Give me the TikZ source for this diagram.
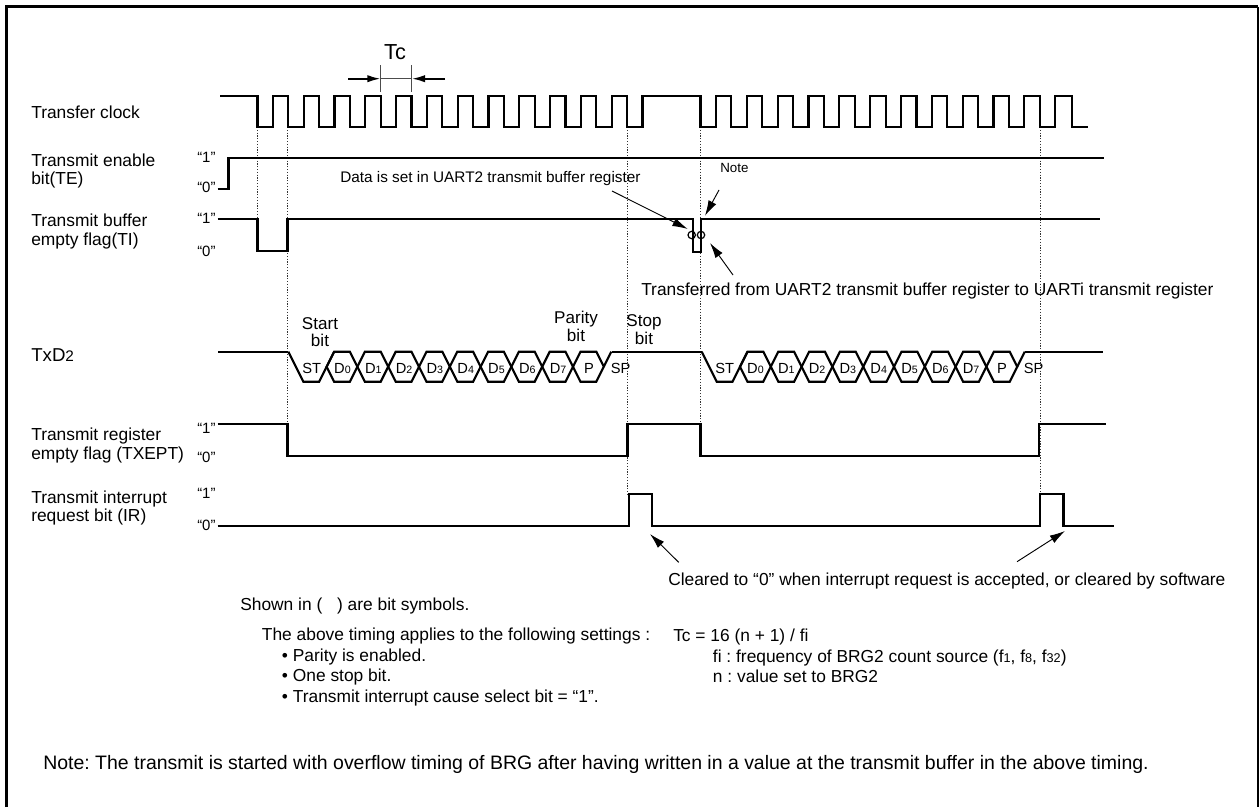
\documentclass[tikz,border=0pt]{standalone}
\usepackage{fontspec}
\setmainfont{Liberation Sans}
\usetikzlibrary{arrows.meta}
\frenchspacing
\newcommand{\fsz}[1]{\fontsize{#1}{#1}\selectfont}
\newcommand{\sm}[1]{{\fsz{8}#1}}
\newcommand{\smb}[1]{{\fsz{9.5}#1}}
\tikzset{
  wave/.style={line width=1.6pt,line join=miter,line cap=butt,black},
  dots/.style={line width=0.6pt,dash pattern=on 0.9pt off 1.2pt,black!80},
  thinl/.style={line width=0.6pt,black!70},
  arr/.style={line width=0.7pt,-{Latex[length=11.5pt,width=6.5pt]}},
  tcarr/.style={line width=1.5pt,-{Latex[length=10pt,width=5.5pt]}},
  lbl/.style={inner sep=0pt,anchor=base west,font=\fsz{13.05}},
  mid/.style={inner sep=0pt,anchor=base,font=\fsz{12.8}},
  lev/.style={inner sep=0pt,anchor=base west,font=\fsz{11.2}},
  bitl/.style={inner sep=0pt,anchor=base,font=\fsz{11}},
  notel/.style={inner sep=0pt,anchor=base west,font=\fsz{10}},
  body/.style={inner sep=0pt,anchor=base west,font=\fsz{13.03}},
}
\begin{document}
\begin{tikzpicture}[x=0.75pt,y=-0.75pt]
\useasboundingbox (0,0) rectangle (1259,807);
% frame
\draw[line width=1.7pt] (6.5,807) -- (6.5,6.5) -- (1258,6.5);
\draw[line width=0.8pt] (1258,6.5) -- (1258,807);
% dotted guides
\draw[dots] (257.5,127) -- (257.5,219);
\draw[dots] (287.5,127) -- (287.5,424);
\draw[dots] (627.5,127) -- (627.5,494);
\draw[dots] (700.5,127) -- (700.5,424);
\draw[dots] (1040,127) -- (1040,494);
% clock
\draw[wave] (220,96)
  foreach \k in {0,...,12} { -- ({257.5+30.8*\k},96) -- ({257.5+30.8*\k},127) -- ({272.9+30.8*\k},127) -- ({272.9+30.8*\k},96) }
  foreach \k in {0,...,11} { -- ({700.5+30.85*\k},96) -- ({700.5+30.85*\k},127) -- ({715.9+30.85*\k},127) -- ({715.9+30.85*\k},96) }
  -- (1072,96) -- (1072,127) -- (1087.7,127);
% Tc
\coordinate (tcL) at (380.7,78.7);
\coordinate (tcR) at (411.7,78.7);
\coordinate (tcLs) at (348.3,78.7);
\coordinate (tcRs) at (445,78.7);
\draw[thinl] (380.7,65) -- (380.7,92) (411.7,65) -- (411.7,92);
\draw[thinl] (tcL) -- (tcR);
\draw[tcarr] (tcLs) -- (tcL);
\draw[tcarr] (tcRs) -- (tcR);
\node[mid,font=\fsz{16.3}] (tc) at (395,59) {Tc};
% TE
\draw[wave] (217.5,188.7) -- (228.5,188.7) -- (228.5,157.7) -- (1104,157.7);
% TI
\draw[wave] (217.5,219.3) -- (257.5,219.3) -- (257.5,250.7) -- (287.5,250.7) -- (287.5,219.3) -- (692.7,219.3) -- (692.7,251.7) -- (701,251.7) -- (701,219.3) -- (1100,219.3);
\draw[line width=0.9pt] (691.7,235) circle (3.7) (701,235) circle (3.7);
% TxD
\foreach \x/\n in {288.3/a,701.7/b}{
  \draw[wave] (\x,351.7) -- ++(15,30) -- ({\x+30.8},381.7) -- ({\x+45.8},351.7);
  \foreach \k in {1,...,9}{
    \draw[wave] ({\x+7.5+30.8*\k},366.7) -- ({\x+15+30.8*\k},351.7) -- ({\x+30.8+30.8*\k},351.7) -- ({\x+38.3+30.8*\k},366.7) -- ({\x+30.8+30.8*\k},381.7) -- ({\x+15+30.8*\k},381.7) -- cycle;
  }
  \draw[wave] ({\x+30.8*10+7.5},366.7) -- ({\x+30.8*10+15},351.7);
}
\draw[wave] (218,351.7) -- (288.3,351.7);
\draw[wave] (611.5,351.7) -- (701.7,351.7);
\draw[wave] (1025,351.7) -- (1103,351.7);
% TXEPT
\draw[wave] (217.5,424.3) -- (287.5,424.3) -- (287.5,455.7) -- (627.5,455.7) -- (627.5,424.3) -- (700.5,424.3) -- (700.5,455.7) -- (1039,455.7) -- (1039,424.3) -- (1106,424.3);
% IR
\draw[wave] (217.5,525.7) -- (629,525.7) -- (629,494.3) -- (652,494.3) -- (652,525.7) -- (1040,525.7) -- (1040,494.3) -- (1063.5,494.3) -- (1063.5,525.7) -- (1114,525.7);
% left labels
\node[lbl] (l1) at (31,118.7) {Transfer clock};
\node[lbl] (l2) at (31,166) {Transmit enable};
\node[lbl] (l3) at (31,184) {bit(TE)};
\node[lbl] (l4) at (31,226) {Transmit buffer};
\node[lbl] (l5) at (31,245) {empty flag(TI)};
\node[lbl,font=\fsz{14}] (l6) at (31,361) {TxD{\fsz{11.5}2}};
\node[lbl] (l7) at (31,440) {Transmit register};
\node[lbl] (l8) at (31,459) {empty flag (TXEPT)};
\node[lbl] (l9) at (31,503) {Transmit interrupt};
\node[lbl] (l10) at (31,521.7) {request bit (IR)};
% levels
\node[lev] (v1) at (197,162.7) {“1”};
\node[lev] (v2) at (197,192.7) {“0”};
\node[lev] (v3) at (197,223) {“1”};
\node[lev] (v4) at (197,256.7) {“0”};
\node[lev] (v5) at (197,433) {“1”};
\node[lev] (v6) at (197,462) {“0”};
\node[lev] (v7) at (197,498) {“1”};
\node[lev] (v8) at (197,530) {“0”};
% bit labels
\node[mid] (s1) at (320,329) {Start};
\node[mid] (s2) at (320,346.7) {bit};
\node[mid] (p1) at (576,323) {Parity};
\node[mid] (p2) at (576,341) {bit};
\node[mid] (q1) at (644,326) {Stop};
\node[mid] (q2) at (644,344) {bit};
\foreach \x/\n in {311.7/a,724.7/b}{
  \node[bitl] (st\n) at (\x,373) {ST};
  \node[bitl] (sp\n) at ({\x+309},373) {SP};
  \node[bitl] (pp\n) at ({\x+30.8*9},373) {P};
  \foreach \k in {0,...,7}{
    \node[bitl] (d\n\k) at ({\x+30.8*(\k+1)},373) {D\sm{\k}};
  }
}
% annotations
\node[body,font=\fsz{11.5}] (data) at (340,182) {Data is set in UART2 transmit buffer register};
\node[notel] (notea) at (720,172) {Note};
\node[body] (tran) at (641,295) {Transferred from UART2 transmit buffer register to UARTi transmit register};
\node[body] (clr) at (668,585.7) {Cleared to “0” when interrupt request is accepted, or cleared by software};
\coordinate (a1s) at (612,191);
\coordinate (a1e) at (687.7,229);
\coordinate (a2s) at (719,190);
\coordinate (a2e) at (705,215.7);
\coordinate (a3s) at (733,275);
\coordinate (a3e) at (710,243);
\coordinate (a4s) at (678.7,562.3);
\coordinate (a4e) at (650,534);
\coordinate (a5s) at (1017,561.7);
\coordinate (a5e) at (1065,531);
\draw[arr] (a1s) -- (a1e);
\draw[arr] (a2s) -- (a2e);
\draw[arr] (a3s) -- (a3e);
\draw[arr] (a4s) -- (a4e);
\draw[arr] (a5s) -- (a5e);
% lower text
\node[body] (t1) at (240,610) {Shown in (\hspace{0.85em}) are bit symbols.};
\node[body] (t2) at (261.7,640.7) {The above timing applies to the following settings :};
\node[body] (t3) at (281.7,661.7) {• Parity is enabled.};
\node[body] (t4) at (281.7,681.7) {• One stop bit.};
\node[body] (t5) at (281.7,702.7) {• Transmit interrupt cause select bit = “1”.};
\node[body] (t6) at (673,641.7) {Tc = 16 (n + 1) / fi};
\node[body] (t7) at (712.7,662.3) {fi : frequency of BRG2 count source (f\smb{1}, f\smb{8}, f\smb{32})};
\node[body] (t8) at (712.7,682.7) {n : value set to BRG2};
\node[body,font=\fsz{14.6}] (t9) at (43,769) {Note: The transmit is started with overflow timing of BRG after having written in a value at the transmit buffer in the above timing.};
\end{tikzpicture}
\end{document}
